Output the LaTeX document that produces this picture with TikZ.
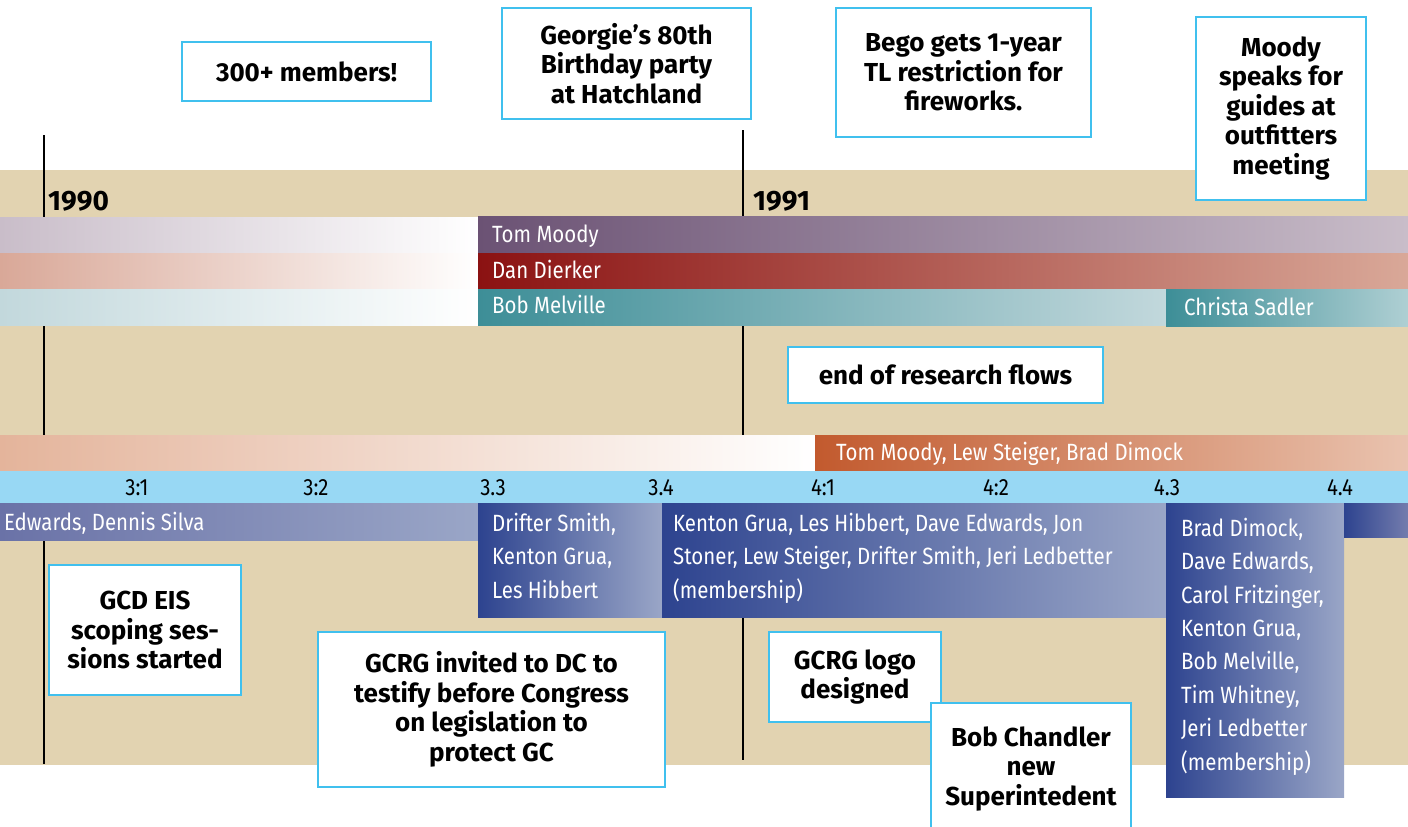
\documentclass[tikz,border=0pt]{standalone}
\usepackage{fontspec}
\setmainfont{Fira Sans}
\newfontfamily\namefont{Fira Sans}[FakeStretch=0.87]

\definecolor{tan}{HTML}{E2D3B1}
\definecolor{boxline}{HTML}{40C0EE}
\definecolor{band}{HTML}{98D8F4}
\definecolor{purpleD}{HTML}{6B5274}
\definecolor{purpleL}{HTML}{C9BDC9}
\definecolor{redD}{HTML}{8B1212}
\definecolor{redL}{HTML}{D9A898}
\definecolor{tealD}{HTML}{3D8E97}
\definecolor{tealL}{HTML}{C2D8DC}
\definecolor{orangeD}{HTML}{C25A2E}
\definecolor{orangeL}{HTML}{E4B49B}
\definecolor{blueD}{HTML}{2D438F}
\definecolor{blueL}{HTML}{9AA6C7}
\definecolor{blueM}{HTML}{6A72A7}

\begin{document}
\begin{tikzpicture}[x=1pt, y=-1pt,
    evbox/.style={draw=boxline, line width=1.5pt, fill=white, align=center, inner sep=0pt,
        font=\bfseries\fontsize{26}{29.5}\selectfont},
    who/.style={anchor=base west, text=white, inner sep=0pt, font=\namefont\fontsize{23.5}{26}\selectfont},
    crew/.style={anchor=base west, text=white, inner sep=0pt, align=left,
        font=\namefont\fontsize{23.5}{33.4}\selectfont},
    tick/.style={anchor=base, inner sep=0pt, font=\namefont\fontsize{23.5}{26}\selectfont},
    year/.style={anchor=base west, inner sep=0pt, font=\bfseries\fontsize{28}{30}\selectfont},
    yearline/.style={line width=1.5pt}]
        \def \xA {44};
        \def \xB {743};
        \def \xS {478};
        \def \xC {1166};

        \useasboundingbox ( 0, 0 ) rectangle ( 1408, 827 );

        % фон
        \fill [tan] ( 0, 170 ) rectangle ( 1408, 765 );

        % годы
        \draw [yearline] ( \xA, 135 ) -- ( \xA, 764 );
        \draw [yearline] ( \xB, 130 ) -- ( \xB, 760 );
        \node [year] (y1990) at ( 48, 210 ) {1990};
        \node [year] (y1991) at ( 753, 210 ) {1991};

        % председатели
        \fill [left color=purpleL, right color=white] ( 0, 217 ) rectangle ( \xS, 253 );
        \fill [left color=purpleD, right color=purpleL] ( \xS, 216 ) rectangle ( 1408, 253 );
        \fill [left color=redL, right color=white] ( 0, 253 ) rectangle ( \xS, 289 );
        \fill [left color=redD, right color=redL] ( \xS, 253 ) rectangle ( 1408, 289 );
        \fill [left color=tealL, right color=white] ( 0, 289 ) rectangle ( \xS, 325 );
        \fill [left color=tealD, right color=tealL] ( \xS, 289 ) rectangle ( \xC, 325 );
        \fill [left color=tealD, right color=tealL!90!teal] ( \xC, 289 ) rectangle ( 1408, 326 );
        \node [who] (moody) at ( 492, 242 ) {Tom Moody};
        \node [who] (dierker) at ( 492, 278 ) {Dan Dierker};
        \node [who] (melville) at ( 492, 313 ) {Bob Melville};
        \node [who] (sadler) at ( 1184, 315 ) {Christa Sadler};

        % редакторы
        \fill [left color=orangeL, right color=white] ( 0, 435 ) rectangle ( 815, 471 );
        \fill [left color=orangeD, right color=orangeL!80!white] ( 815, 435 ) rectangle ( 1408, 471 );
        \node [who] (editors) at ( 836, 460 ) {Tom Moody, Lew Steiger, Brad Dimock};

        % кварталы
        \fill [band] ( 0, 471 ) rectangle ( 1408, 503 );
        \node [tick] (q31) at ( 137, 495 ) {3:1};
        \node [tick] (q32) at ( 316, 495 ) {3:2};
        \node [tick] (q33) at ( 493, 495 ) {3.3};
        \node [tick] (q34) at ( 661, 495 ) {3.4};
        \node [tick] (q41) at ( 823, 495 ) {4:1};
        \node [tick] (q42) at ( 996, 495 ) {4:2};
        \node [tick] (q43) at ( 1167, 495 ) {4.3};
        \node [tick] (q44) at ( 1340, 495 ) {4.4};

        % совет
        \fill [left color=blueM, right color=blueL] ( 0, 503 ) rectangle ( \xS, 540 );
        \fill [left color=blueD, right color=blueL] ( \xS, 503 ) rectangle ( 662, 617 );
        \fill [left color=blueD, right color=blueL] ( 662, 503 ) rectangle ( \xC, 617 );
        \fill [left color=blueD, right color=blueL] ( \xC, 503 ) rectangle ( 1344, 797 );
        \fill [left color=blueD, right color=blueM!80!blueL] ( 1344, 503 ) rectangle ( 1408, 537 );
        \node [who] (board1) at ( 4, 530 ) {Edwards, Dennis Silva};
        \node [crew] (board2) at ( 492, 598 ) {Drifter Smith,\\Kenton Grua,\\Les Hibbert};
        \node [crew] (board3) at ( 673, 598 ) {Kenton Grua, Les Hibbert, Dave Edwards, Jon\\
            Stoner, Lew Steiger, Drifter Smith, Jeri Ledbetter\\(membership)};
        \node [crew] (board4) at ( 1181, 770 ) {Brad Dimock,\\Dave Edwards,\\Carol Fritzinger,\\
            Kenton Grua,\\Bob Melville,\\Tim Whitney,\\Jeri Ledbetter\\(membership)};

        % события
        \node [evbox, minimum width=249, minimum height=59] (members) at ( 306.5, 71.5 ) {300+ members!};
        \node [evbox, minimum width=249, minimum height=111] (georgie) at ( 626.5, 63.5 ) {Georgie’s 80th\\Birthday party\\at Hatchland};
        \node [evbox, minimum width=255, minimum height=129] (bego) at ( 963.5, 72.5 ) {Bego gets 1-year\\TL restriction for\\fireworks.};
        \node [evbox, minimum width=170, minimum height=183] (outfitters) at ( 1281, 108.5 ) {Moody\\speaks for\\guides at\\outfitters\\meeting};
        \node [evbox, minimum width=315, minimum height=56] (flows) at ( 945.5, 375 ) {end of research flows};
        \node [evbox, minimum width=192, minimum height=130] (eis) at ( 145, 630 ) {GCD EIS\\scoping ses-\\sions started};
        \node [evbox, minimum width=347, minimum height=155] (congress) at ( 491.5, 709.5 ) {GCRG invited to DC to\\testify before Congress\\on legislation to\\protect GC};
        \node [evbox, minimum width=172, minimum height=90] (logo) at ( 855, 677 ) {GCRG logo\\designed};
        \node [evbox, minimum width=200, minimum height=132] (chandler) at ( 1031, 769 ) {Bob Chandler\\new\\Superintedent};
    \end{tikzpicture}
\end{document}
